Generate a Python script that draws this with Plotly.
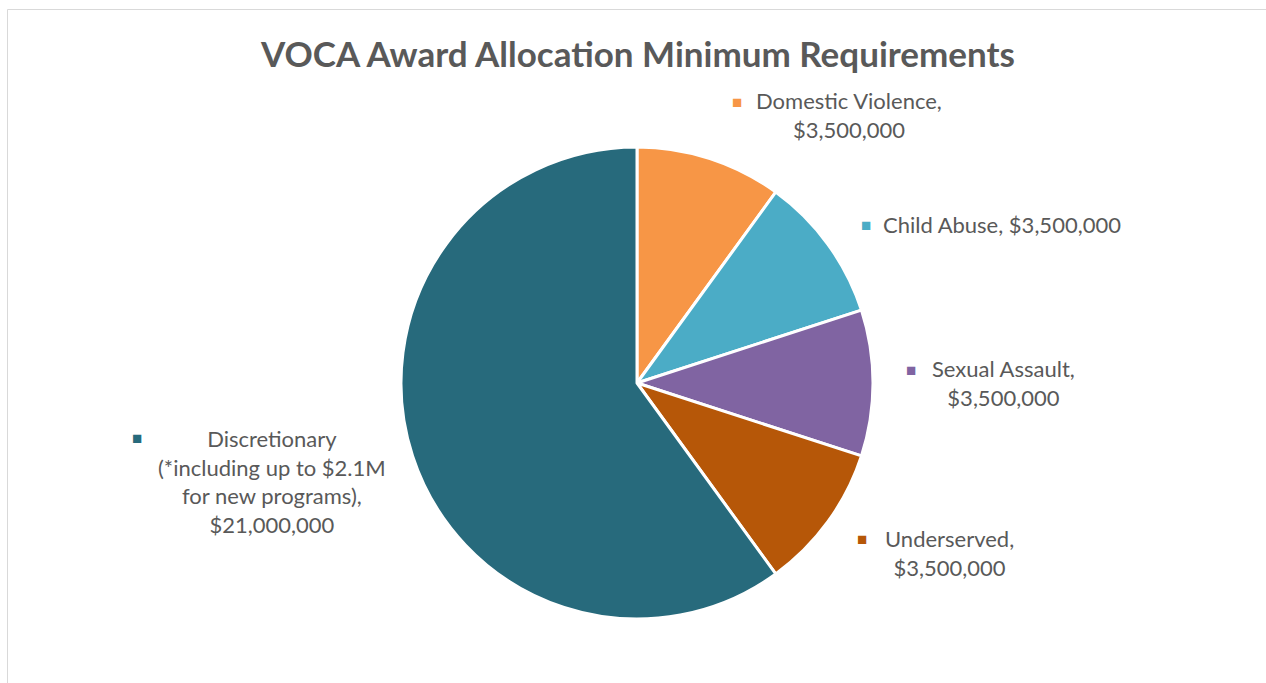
import plotly.graph_objects as go

W, H = 1266, 683

categories = ["Domestic Violence", "Child Abuse", "Sexual Assault", "Underserved",
              "Discretionary (*including up to $2.1M for new programs)"]
values = [3500000, 3500000, 3500000, 3500000, 21000000]
colors = ["#F79646", "#4BACC6", "#8064A2", "#B65708", "#276A7C"]

# label text layouts (display breaks)
label_texts = [
    "Domestic Violence,<br>${v}",
    "Child Abuse, ${v}",
    "Sexual Assault,<br>${v}",
    "Underserved,<br>${v}",
    "Discretionary<br>(*including up to $2.1M<br>for new programs),<br>${v}",
]
# label placement in pixels: (marker x, marker y, text center x, text center y)
label_pos = [
    (737, 101, 849, 115.5),
    (866, 225, 1002, 225),
    (911, 369, 1003, 383.5),
    (862, 538, 949, 553),
    (137, 437, 272, 481),
]

FONT = "Lato, 'Open Sans', sans-serif"
GRAY = "#595959"

cx, cy, r = 637, 383, 236

fig = go.Figure(go.Pie(
    labels=categories,
    values=values,
    sort=False,
    direction="clockwise",
    rotation=0,
    marker=dict(colors=colors, line=dict(color="white", width=3)),
    textinfo="none",
    hoverinfo="label+value",
    showlegend=False,
    domain=dict(x=[(cx - r) / W, (cx + r) / W], y=[1 - (cy + r) / H, 1 - (cy - r) / H]),
))

annotations = []
for txt, v, c, (mx, my, tx, ty) in zip(label_texts, values, colors, label_pos):
    annotations.append(dict(
        x=mx / W, y=1 - my / H, xref="paper", yref="paper",
        text="■", showarrow=False, xanchor="center", yanchor="middle",
        font=dict(family=FONT, size=17, color=c),
    ))
    annotations.append(dict(
        x=tx / W, y=1 - ty / H, xref="paper", yref="paper",
        text=txt.replace("{v}", f"{v:,}"), showarrow=False,
        xanchor="center", yanchor="middle", align="center",
        font=dict(family=FONT, size=22, color=GRAY),
    ))

annotations.append(dict(
    x=637 / W, y=1 - 53 / H, xref="paper", yref="paper",
    text="<b>VOCA Award Allocation Minimum Requirements</b>", showarrow=False,
    xanchor="center", yanchor="middle",
    font=dict(family=FONT, size=35, color=GRAY),
))

fig.update_layout(
    width=W, height=H,
    margin=dict(l=0, r=0, t=0, b=0),
    paper_bgcolor="white",
    plot_bgcolor="white",
    annotations=annotations,
    shapes=[dict(type="rect", xref="paper", yref="paper",
                 x0=7.5 / W, x1=1.02, y0=-0.02, y1=1 - 9.5 / H,
                 line=dict(color="#D9D9D9", width=1))],
)

fig.write_html("out.html")
